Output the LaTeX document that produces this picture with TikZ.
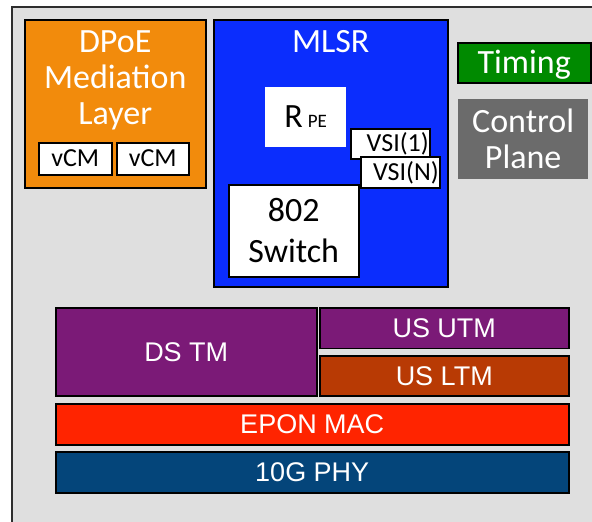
\documentclass[tikz,border=0pt]{standalone}
\usepackage{fontspec}
\setmainfont{Carlito}
\newfontfamily\arialfont{Liberation Sans}
\usetikzlibrary{positioning}
\definecolor{shelfgray}{HTML}{DFDFDF}
\definecolor{edgegray}{HTML}{2E2E2E}
\definecolor{dpoeorange}{HTML}{F28B0C}
\definecolor{mlsrblue}{HTML}{0B2DFD}
\definecolor{timinggreen}{HTML}{008A00}
\definecolor{ctrlgray}{HTML}{6B6B6B}
\definecolor{tmpurple}{HTML}{7B1A77}
\definecolor{ltmbrown}{HTML}{B83A04}
\definecolor{macred}{HTML}{FF2400}
\definecolor{phyblue}{HTML}{04457A}
\tikzset{blk/.style = {draw, line width=1.5pt, inner sep=0pt, anchor=north west}}
\tikzset{nob/.style = {inner sep=0pt, anchor=north west}}
\tikzset{big/.style = {text=white, align=center, inner sep=0pt, font=\fontsize{34}{36}\selectfont}}
\tikzset{small/.style = {blk, fill=white, font=\fontsize{26}{28}\selectfont, text height=16.4pt, text depth=0pt}}
\tikzset{low/.style = {blk, text=white, font=\arialfont\fontsize{27}{30}\selectfont, text height=19.4pt, text depth=0pt}}

\begin{document}
\begin{tikzpicture}[x=1pt, y=-1pt]
  \useasboundingbox (0, 0) rectangle (592, 522);
  \clip (0, 0) rectangle (592, 522);
  \draw [draw=edgegray, line width=2pt, fill=shelfgray] (12, 7) rectangle (640, 580);
  % DPoE mediation layer
  \node (dpoe) at (24, 19) [blk, fill=dpoeorange, minimum width=181, minimum height=168] {};
  \node (dpoetext) [big, below=11.5pt of dpoe.north] {DPoE\\Mediation\\Layer};
  \node (vcma) at (38, 142) [small, minimum width=73, minimum height=32] {vCM};
  \node (vcmb) at (116, 142) [small, minimum width=72, minimum height=32] {vCM};
  % MLSR
  \node (mlsr) at (213, 19) [blk, fill=mlsrblue, minimum width=234, minimum height=267] {};
  \node (mlsrtext) [big, below=11.5pt of mlsr.north] {MLSR};
  \node (rpe) at (265, 87) [nob, fill=white, minimum width=81, minimum height=60,
                            text height=21.5pt, text depth=0pt]
        {\fontsize{34}{36}\selectfont R\hspace{5pt}\fontsize{19}{20}\selectfont PE};
  \node (vsia) at (350, 128) [small, minimum height=30, inner xsep=1pt, text width=77pt, align=right] {VSI(1)};
  \node (vsin) at (360, 156) [small, minimum height=31, inner xsep=1pt, text width=77pt, align=right] {VSI(N)};
  \node (sw) at (228, 184) [blk, fill=white, minimum width=130, minimum height=92,
                           align=center, font=\fontsize{34}{41}\selectfont] {802\\Switch};
  % right column
  \node (timing) at (457, 42) [blk, fill=timinggreen, text=white, minimum width=133, minimum height=40,
                              font=\fontsize{34}{36}\selectfont, text height=21.5pt, text depth=0pt] {Timing};
  \node (ctrl) at (458, 99) [nob, fill=ctrlgray, minimum width=130, minimum height=80] {};
  \node (ctrltext) at (ctrl.center) [big] {Control\\Plane};
  % lower layers
  \node (dstm) at (55, 307) [low, fill=tmpurple, minimum width=261, minimum height=88] {DS TM};
  \node (usutm) at (319, 307) [low, fill=tmpurple, minimum width=249, minimum height=40.5] {US UTM};
  \node (usltm) at (319, 355) [low, fill=ltmbrown, minimum width=249, minimum height=40] {US LTM};
  \node (epon) at (55, 403) [low, fill=macred, minimum width=513, minimum height=41] {EPON MAC};
  \node (phy) at (55, 451) [low, fill=phyblue, minimum width=513, minimum height=41] {10G PHY};
\end{tikzpicture}
\end{document}
